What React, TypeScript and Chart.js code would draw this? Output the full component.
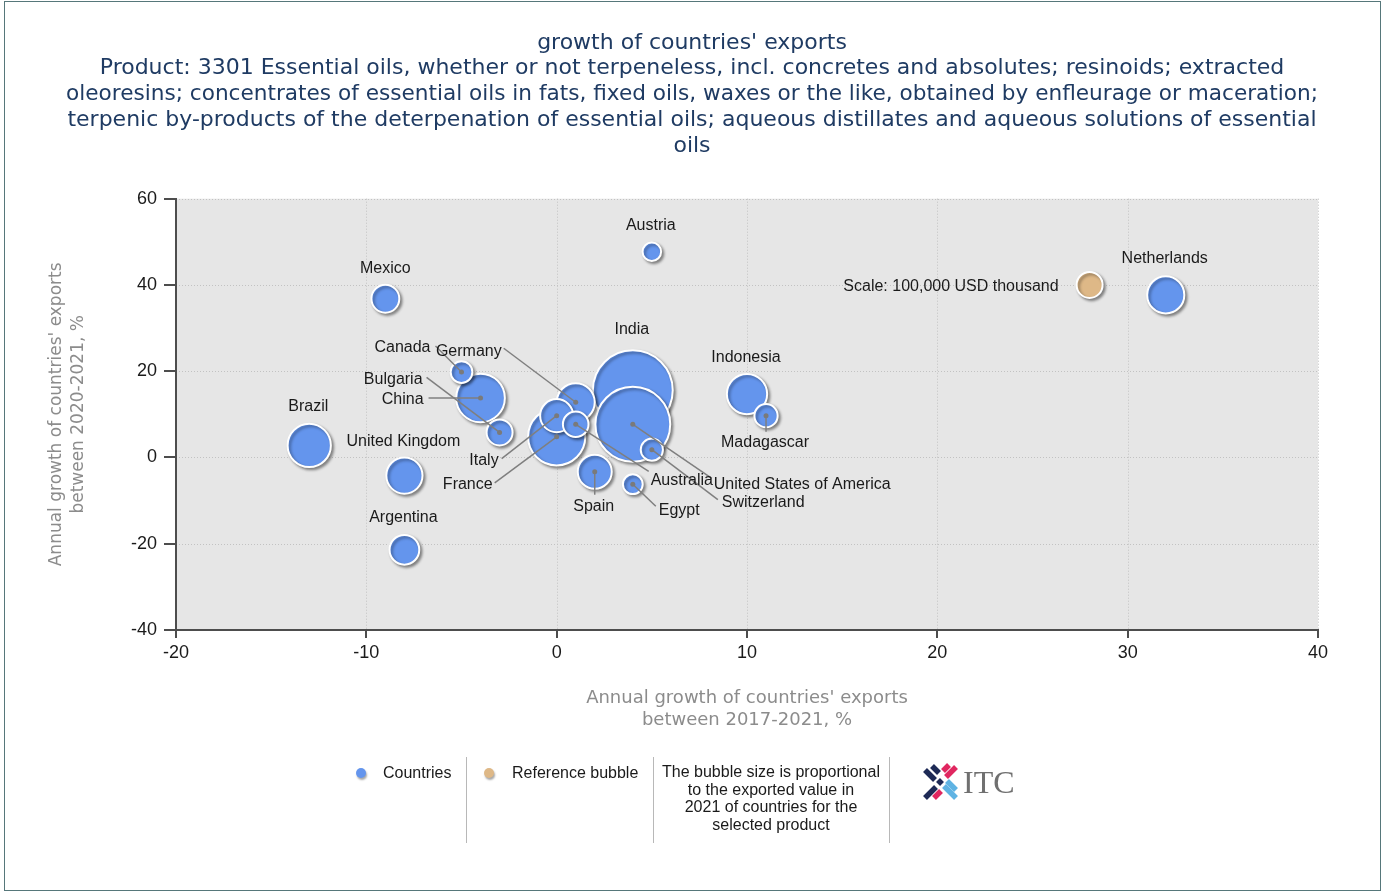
import React, { useEffect, useRef } from 'react';
import { Chart, registerables } from 'chart.js';

Chart.register(...registerables);

// ---------------- DATA ----------------
const titleLines = [
  "growth of countries' exports",
  'Product: 3301 Essential oils, whether or not terpeneless, incl. concretes and absolutes; resinoids; extracted',
  'oleoresins; concentrates of essential oils in fats, fixed oils, waxes or the like, obtained by enfleurage or maceration;',
  'terpenic by-products of the deterpenation of essential oils; aqueous distillates and aqueous solutions of essential',
  'oils',
];
const xAxisTitle = ["Annual growth of countries' exports", 'between 2017-2021, %'];
const yAxisTitle = ["Annual growth of countries' exports", 'between 2020-2021, %'];

const countries = [
  'India', 'United States of America', 'France', 'China', 'Brazil', 'Indonesia', 'Germany',
  'Netherlands', 'United Kingdom', 'Spain', 'Italy', 'Argentina', 'Mexico', 'Bulgaria',
  'Australia', 'Madagascar', 'Switzerland', 'Canada', 'Egypt', 'Austria',
];
// Annual growth 2017-2021, %
const growth1721 = [4, 4, 0, -4, -13, 10, 1, 32, -8, 2, 0, -8, -9, -3, 1, 11, 5, -5, 4, 5];
// Annual growth 2020-2021, %
const growth2021 = [15.6, 7.7, 4.8, 13.8, 2.8, 14.7, 12.8, 37.7, -4.2, -3.3, 9.7, -21.4, 36.8, 5.8, 7.7, 9.7, 1.8, 19.8, -6.2, 47.7];
// Exported value 2021, USD thousand
const exports2021 = [943000, 829000, 484000, 350000, 277000, 240000, 214000, 204000, 194000, 171000, 162000, 131000, 115000, 100000, 97000, 80000, 73000, 70000, 58000, 51000];

const refLabel = 'Scale: 100,000 USD thousand';
const refX = [28];
const refY = [40];
const refValue = [100000];

const xTicks = { min: -20, max: 40, step: 10 };
const yTicks = { min: -40, max: 60, step: 20 };

// ---------------- LAYOUT / STYLE ----------------
const REF_RADIUS = 13; // px radius of a 100,000 bubble (plus border)
const radiusOf = (v: number) => REF_RADIUS * Math.sqrt(v / refValue[0]);
const TEXT_SHIFT = 2; // vertical nudge for label text baseline

type Lay = { dx: number; dy: number; align?: CanvasTextAlign; lx?: number; ly?: number };
const labelLayout: Record<string, Lay> = {
  'India': { dx: -1, dy: -63 },
  'United States of America': { dx: 81, dy: 58, align: 'left', lx: 79, ly: 54 },
  'France': { dx: -64, dy: 46, align: 'right', lx: -62, ly: 46 },
  'China': { dx: -57, dy: 0, align: 'right', lx: -52, ly: 0 },
  'Brazil': { dx: -1, dy: -41 },
  'Indonesia': { dx: -1, dy: -38 },
  'Germany': { dx: -74, dy: -53, align: 'right', lx: -72, ly: -54 },
  'Netherlands': { dx: -1, dy: -38 },
  'United Kingdom': { dx: -1, dy: -36 },
  'Spain': { dx: -1, dy: 33, lx: 0, ly: 23 },
  'Italy': { dx: -58, dy: 43, align: 'right', lx: -55, ly: 43 },
  'Argentina': { dx: -1, dy: -34 },
  'Mexico': { dx: 0, dy: -32 },
  'Bulgaria': { dx: -77, dy: -55, align: 'right', lx: -73, ly: -55 },
  'Australia': { dx: 75, dy: 54, align: 'left', lx: 73, ly: 47 },
  'Madagascar': { dx: -1, dy: 25, lx: 0, ly: 16 },
  'Switzerland': { dx: 70, dy: 51, align: 'left', lx: 66, ly: 50 },
  'Canada': { dx: -31, dy: -26, align: 'right', lx: -26, ly: -26 },
  'Egypt': { dx: 26, dy: 24, align: 'left', lx: 23, ly: 22 },
  'Austria': { dx: -1, dy: -28 },
};
const refLayout: Lay = { dx: -31, dy: 0, align: 'right' };

const BLUE = '#6495ED';
const TAN = '#DEB887';
const LABEL_FONT = '16px "Liberation Sans", Arial, sans-serif';
const SANS = '"DejaVu Sans", Verdana, sans-serif';
const ARIAL = '"Liberation Sans", Arial, sans-serif';

const W = 1384;
const H = 894;

const plotBgPlugin = {
  id: 'plotBg',
  beforeDraw(chart: any) {
    const { ctx, chartArea, scales } = chart;
    const { left, top, right, bottom } = chartArea;
    ctx.save();
    ctx.fillStyle = '#e6e6e6';
    ctx.fillRect(left, top, right - left, bottom - top);
    ctx.strokeStyle = '#c2c2c2';
    ctx.lineWidth = 1;
    ctx.setLineDash([1, 2]);
    scales.x.ticks.forEach((t: any) => {
      const px = Math.round(scales.x.getPixelForValue(t.value)) + 0.5;
      ctx.beginPath();
      ctx.moveTo(px, top);
      ctx.lineTo(px, bottom);
      ctx.stroke();
    });
    scales.y.ticks.forEach((t: any) => {
      const py = Math.round(scales.y.getPixelForValue(t.value)) + 0.5;
      ctx.beginPath();
      ctx.moveTo(left, py);
      ctx.lineTo(right, py);
      ctx.stroke();
    });
    ctx.restore();
  },
};

const shadowPlugin = {
  id: 'bubbleShadow',
  beforeDatasetsDraw(chart: any) {
    const ctx = chart.ctx;
    ctx.save();
    ctx.shadowColor = 'rgba(0,0,0,0.4)';
    ctx.shadowBlur = 3;
    ctx.shadowOffsetX = 2;
    ctx.shadowOffsetY = 2;
  },
  afterDatasetsDraw(chart: any) {
    chart.ctx.restore();
  },
};

const labelPlugin = {
  id: 'bubbleLabels',
  afterDatasetsDraw(chart: any) {
    const ctx = chart.ctx;
    const meta = chart.getDatasetMeta(0);
    const pts = meta.data.map((el: any, i: number) => {
      const p = el.getProps(['x', 'y'], true);
      return { x: p.x, y: p.y, name: countries[i], lay: labelLayout[countries[i]] };
    });
    ctx.save();
    ctx.shadowColor = 'transparent';
    ctx.strokeStyle = '#7f7f7f';
    ctx.lineWidth = 1.5;
    pts.forEach((p: any) => {
      if (p.lay.lx === undefined) return;
      ctx.beginPath();
      ctx.moveTo(p.x, p.y);
      ctx.lineTo(p.x + p.lay.lx, p.y + p.lay.ly);
      ctx.stroke();
    });
    ctx.fillStyle = '#7a7a7a';
    pts.forEach((p: any) => {
      if (p.lay.lx === undefined) return;
      ctx.beginPath();
      ctx.arc(p.x, p.y, 2.5, 0, Math.PI * 2);
      ctx.fill();
    });
    ctx.font = LABEL_FONT;
    ctx.fillStyle = '#1a1a1a';
    ctx.textBaseline = 'middle';
    pts.forEach((p: any) => {
      ctx.textAlign = p.lay.align || 'center';
      ctx.fillText(p.name, p.x + p.lay.dx, p.y + p.lay.dy + TEXT_SHIFT);
    });
    const rmeta = chart.getDatasetMeta(1);
    rmeta.data.forEach((el: any) => {
      const p = el.getProps(['x', 'y'], true);
      ctx.textAlign = refLayout.align || 'center';
      ctx.fillText(refLabel, p.x + refLayout.dx, p.y + refLayout.dy + TEXT_SHIFT);
    });
    ctx.restore();
  },
};

function ItcLogo() {
  return (
    <svg width={100} height={42} style={{ position: 'absolute', left: 921, top: 763 }}>
      <g strokeWidth={5.5} strokeLinecap="butt">
        <line x1={4} y1={7} x2={14} y2={17} stroke="#1e2a56" />
        <line x1={11} y1={3} x2={18} y2={10} stroke="#1e2a56" />
        <line x1={23} y1={23} x2={35} y2={35} stroke="#5fb3e3" />
        <line x1={26} y1={18} x2={35} y2={27} stroke="#5fb3e3" />
        <line x1={35} y1={4} x2={25} y2={14} stroke="#e02760" />
        <line x1={28} y1={2} x2={22} y2={8} stroke="#e02760" />
        <line x1={15} y1={24} x2={4} y2={35} stroke="#1e2a56" />
        <line x1={20} y1={28} x2={13} y2={35} stroke="#e02760" />
        <line x1={17} y1={17} x2={21} y2={21} stroke="#1e2a56" />
      </g>
      <text x={42} y={30} fontFamily='"Liberation Serif", "DejaVu Serif", serif' fontSize={32} fill="#707070">ITC</text>
    </svg>
  );
}

export default function App() {
  const ref = useRef<HTMLCanvasElement>(null);

  useEffect(() => {
    const chart = new Chart(ref.current as HTMLCanvasElement, {
      type: 'bubble',
      data: {
        datasets: [
          {
            label: 'Countries',
            data: countries.map((_, i) => ({ x: growth1721[i], y: growth2021[i], r: radiusOf(exports2021[i]) })),
            backgroundColor: BLUE,
            borderColor: '#ffffff',
            borderWidth: 2,
            hoverBorderWidth: 2,
          },
          {
            label: 'Reference bubble',
            data: refX.map((_, i) => ({ x: refX[i], y: refY[i], r: radiusOf(refValue[i]) })),
            backgroundColor: TAN,
            borderColor: '#ffffff',
            borderWidth: 2,
          },
        ],
      },
      options: {
        responsive: false,
        animation: false,
        devicePixelRatio: 1,
        events: [],
        layout: { padding: { left: 66, right: 66, top: 0, bottom: 154 } },
        plugins: {
          legend: { display: false },
          tooltip: { enabled: false },
          title: {
            display: true,
            text: titleLines,
            color: '#1f3b63',
            font: { family: SANS, size: 22, weight: 'normal', lineHeight: 1.17 },
            padding: { top: 30, bottom: 40 },
          },
        },
        scales: {
          x: {
            type: 'linear',
            min: xTicks.min,
            max: xTicks.max,
            ticks: { stepSize: xTicks.step, color: '#1a1a1a', font: { family: ARIAL, size: 18 }, padding: 4 },
            grid: { drawOnChartArea: false, color: '#4d4d4d', tickLength: 8, lineWidth: 2 },
            border: { color: '#4d4d4d', width: 2 },
            title: {
              display: true,
              text: xAxisTitle,
              color: '#8c8c8c',
              font: { family: SANS, size: 18, lineHeight: 1.22 },
              padding: { top: 0, bottom: 9 },
            },
            afterFit: (s: any) => { s.height = 110; },
          },
          y: {
            type: 'linear',
            min: yTicks.min,
            max: yTicks.max,
            ticks: { stepSize: yTicks.step, color: '#1a1a1a', font: { family: ARIAL, size: 18 }, padding: 7 },
            grid: { drawOnChartArea: false, color: '#4d4d4d', tickLength: 12, lineWidth: 2 },
            border: { color: '#4d4d4d', width: 2 },
            title: {
              display: true,
              text: yAxisTitle,
              color: '#8c8c8c',
              font: { family: SANS, size: 17, lineHeight: 1.25 },
              padding: { top: -19.6, bottom: 0 },
            },
            afterFit: (s: any) => { s.width = 110; },
          },
        },
      } as any,
      plugins: [plotBgPlugin, shadowPlugin, labelPlugin],
    });
    return () => chart.destroy();
  }, []);

  const legendText: React.CSSProperties = {
    position: 'absolute',
    fontFamily: ARIAL,
    fontSize: 16,
    lineHeight: '20px',
    color: '#1a1a1a',
    whiteSpace: 'nowrap',
  };
  const sep: React.CSSProperties = { position: 'absolute', top: 757, width: 1, height: 86, background: '#b8b8b8' };
  const dot = (color: string, left: number): React.CSSProperties => ({
    position: 'absolute', left, top: 768, width: 10, height: 10, borderRadius: '50%',
    background: color, boxShadow: '1px 2px 2px rgba(0,0,0,0.35)',
  });

  return (
    <div style={{ position: 'fixed', left: 0, top: 0, width: 1395, height: 894, background: '#ffffff', overflow: 'hidden' }}>
      <div style={{ position: 'absolute', left: 4, top: 1, width: 1377, height: 890, border: '1px solid #56777a', boxSizing: 'border-box' }} />
      <canvas ref={ref} width={W} height={H} style={{ position: 'absolute', left: 0, top: 0, width: W, height: H }} />
      <div style={dot(BLUE, 356)} />
      <div style={{ ...legendText, left: 383, top: 763 }}>Countries</div>
      <div style={{ ...sep, left: 466 }} />
      <div style={dot(TAN, 484)} />
      <div style={{ ...legendText, left: 512, top: 763 }}>Reference bubble</div>
      <div style={{ ...sep, left: 653 }} />
      <div style={{ ...legendText, left: 656, width: 230, top: 763, textAlign: 'center', lineHeight: '17.7px' }}>
        The bubble size is proportional<br />to the exported value in<br />2021 of countries for the<br />selected product
      </div>
      <div style={{ ...sep, left: 889 }} />
      <ItcLogo />
    </div>
  );
}
